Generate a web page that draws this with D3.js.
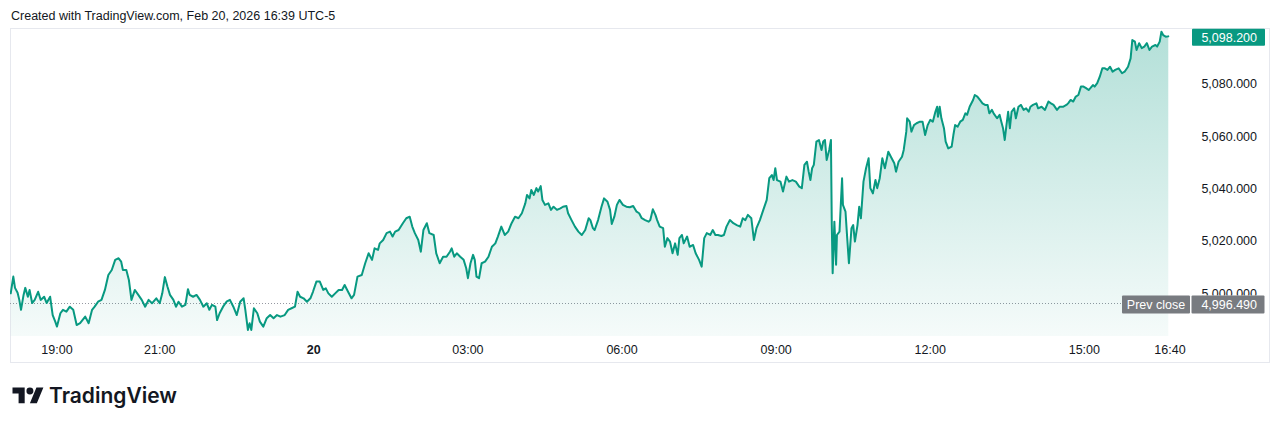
<!DOCTYPE html>
<html><head><meta charset="utf-8">
<script src="https://cdn.jsdelivr.net/npm/d3@7"></script>
<style>html,body{margin:0;padding:0;background:#fff;} svg{display:block;}</style>
</head><body>
<svg id="chart" width="1280" height="427"></svg>
<script>
const times = [
"18:06","18:09","18:11","18:14","18:16","18:18","18:21","18:23","18:26","18:28",
"18:31","18:34","18:38","18:41","18:45","18:48","18:52","18:55","18:58","19:00",
"19:04","19:07","19:11","19:15","19:19","19:23","19:27","19:33","19:37","19:41",
"19:44","19:48","19:52","19:56","20:00","20:04","20:08","20:12","20:15","20:17",
"20:21","20:24","20:27","20:31","20:35","20:39","20:43","20:47","20:51","20:56",
"21:00","21:03","21:06","21:09","21:12","21:16","21:19","21:22","21:26","21:30",
"21:33","21:35","21:39","21:43","21:47","21:51","21:55","21:58","22:01","22:05",
"22:07","22:10","22:14","22:18","22:22","22:26","22:30","22:34","22:38","22:40",
"22:43","22:45","22:47","22:50","22:54","22:57","23:01","23:05","23:09","23:13",
"23:17","23:21","23:26","23:30","23:34","23:38","23:41","23:44","23:48","23:52",
"23:56","23:59","00:03","00:07","00:11","00:14","00:17","00:21","00:25","00:29",
"00:33","00:36","00:40","00:44","00:47","00:51","00:56","01:00","01:04","01:08",
"01:11","01:15","01:17","01:21","01:25","01:29","01:32","01:35","01:39","01:44",
"01:48","01:52","01:55","01:58","02:02","02:05","02:08","02:12","02:15","02:20",
"02:23","02:27","02:31","02:35","02:39","02:41","02:44","02:47","02:51","02:55",
"02:58","03:00","03:03","03:06","03:08","03:10","03:13","03:16","03:20","03:24",
"03:28","03:32","03:35","03:39","03:43","03:47","03:51","03:55","03:59","04:03",
"04:07","04:09","04:12","04:14","04:17","04:20","04:22","04:25","04:27","04:30",
"04:34","04:37","04:40","04:44","04:48","04:51","04:55","04:57","05:01","05:05",
"05:09","05:13","05:17","05:21","05:23","05:26","05:28","05:32","05:36","05:39",
"05:43","05:46","05:48","05:51","05:54","05:57","06:01","06:05","06:09","06:13",
"06:17","06:20","06:23","06:27","06:31","06:33","06:36","06:39","06:41","06:44",
"06:48","06:50","06:53","06:56","06:59","07:02","07:05","07:07","07:10","07:12",
"07:16","07:19","07:23","07:26","07:30","07:33","07:36","07:39","07:43","07:46",
"07:49","07:52","07:56","07:59","08:02","08:06","08:10","08:14","08:18","08:21",
"08:24","08:27","08:31","08:34","08:37","08:41","08:45","08:49","08:52","08:55",
"08:57","08:59","09:01","09:05","09:08","09:12","09:15","09:19","09:23",
"09:27","09:30","09:33","09:36","09:38","09:40","09:42","09:44","09:47","09:50",
"09:53","09:55","09:57","09:59","10:02","10:04","10:05","10:06","10:08","10:10",
"10:11","10:14","10:17","10:18","10:21","10:23","10:25","10:28","10:30","10:32",
"10:35","10:37","10:39","10:42","10:45","10:48","10:50","10:53","10:56","10:58",
"11:01","11:04","11:07","11:11","11:14","11:18","11:20","11:23","11:27","11:29",
"11:32","11:33","11:36","11:38","11:41","11:44","11:48","11:51","11:54","11:57",
"12:00","12:03","12:06","12:08","12:09","12:11","12:13","12:16","12:18","12:21",
"12:25","12:27","12:29","12:32","12:35","12:38","12:41","12:43","12:46","12:50",
"12:52","12:55","12:58","13:01","13:04","13:07","13:09","13:12","13:14","13:18",
"13:21","13:23","13:25","13:27","13:29","13:31","13:33","13:35","13:38","13:40",
"13:43","13:46","13:49","13:52","13:55","13:57","14:00","14:04","14:06","14:10",
"14:14","14:18","14:21","14:24","14:28","14:31","14:35","14:39","14:41","14:44",
"14:47","14:50","14:53","14:56","14:59","15:02","15:05","15:07","15:10","15:12",
"15:15","15:18","15:21","15:24","15:27","15:30","15:33","15:36","15:40","15:44",
"15:47","15:51","15:54","15:56","15:59","16:01","16:04","16:07","16:10","16:13",
"16:16","16:19","16:23","16:25","16:28","16:30","16:32","16:35","16:38"
];
const prices = [
5000.0,5006.4,5002.1,5000.2,4997.5,4993.7,4999.4,5002.1,4998.7,5001.3,
4996.3,4997.5,5000.6,4997.5,4998.7,4996.3,4998.7,4991.7,4989.2,4987.3,
4992.4,4993.7,4993.0,4994.9,4993.7,4987.9,4988.6,4991.1,4988.6,4993.7,
4994.9,4996.8,4997.5,5001.3,5007.0,5008.9,5012.8,5013.4,5012.1,5008.9,
5008.9,5005.1,4997.5,5001.3,4999.4,4997.5,4994.9,4997.5,4996.2,4998.1,
4996.2,5000.0,5006.2,5002.6,4999.4,4997.5,4994.9,4996.8,4994.9,4995.6,
5001.6,4999.4,4998.7,4999.4,4997.5,4994.9,4996.2,4993.7,4995.6,4994.9,
4989.8,4992.4,4994.9,4996.8,4997.5,4994.9,4991.7,4996.8,4998.1,4993.7,
4986.0,4988.6,4986.0,4994.3,4992.4,4989.2,4987.3,4990.5,4991.7,4990.5,
4991.7,4991.1,4991.7,4993.7,4994.3,4994.9,5000.6,4998.7,4998.1,4996.8,
4998.1,5000.6,5004.5,5004.5,5001.3,5001.9,5000.0,4998.7,5000.0,5001.3,
5001.3,5003.2,5000.6,4998.1,4999.4,5006.4,5007.0,5011.5,5015.3,5012.8,
5017.2,5016.6,5019.1,5020.4,5023.0,5023.6,5021.7,5023.6,5024.2,5026.8,
5028.7,5029.3,5025.5,5023.0,5020.4,5015.9,5024.2,5026.8,5023.0,5022.3,
5015.3,5011.5,5014.0,5014.0,5015.9,5017.2,5014.0,5015.3,5014.0,5012.8,
5009.6,5005.8,5011.5,5014.7,5012.8,5006.4,5005.8,5011.5,5012.1,5014.0,
5017.8,5019.1,5021.7,5025.5,5022.3,5023.6,5026.8,5029.3,5028.7,5030.6,
5034.4,5037.6,5036.3,5039.5,5037.6,5040.2,5038.9,5041.0,5035.7,5033.8,
5034.4,5031.9,5033.1,5031.9,5032.5,5033.1,5033.4,5030.6,5028.0,5025.5,
5023.6,5022.3,5024.2,5028.7,5028.0,5024.9,5024.2,5028.0,5033.1,5036.3,
5035.0,5031.9,5026.5,5029.3,5033.8,5035.7,5033.8,5033.1,5032.9,5033.4,
5031.2,5030.6,5028.7,5028.0,5027.4,5028.0,5032.1,5030.0,5028.0,5025.5,
5024.9,5017.8,5021.1,5019.8,5015.3,5019.1,5014.7,5021.1,5022.3,5019.1,
5021.7,5017.8,5018.5,5015.3,5012.8,5010.2,5021.1,5023.0,5022.3,5024.2,
5022.3,5022.3,5021.9,5022.3,5025.5,5028.0,5026.8,5026.1,5025.5,5028.7,
5028.0,5030.0,5028.7,5020.4,5024.9,5028.0,5031.9,5035.7,5044.0,5045.2,
5043.3,5047.8,5043.3,5042.7,5038.9,5044.6,5042.7,5043.3,5042.7,
5040.8,5040.2,5049.1,5050.3,5046.5,5043.3,5047.8,5049.1,5058.0,5058.6,
5054.8,5058.0,5058.6,5051.0,5054.8,5058.6,5026.1,5007.7,5027.4,5010.9,
5022.3,5023.6,5044.0,5033.8,5031.2,5021.1,5011.5,5024.9,5026.1,5019.8,
5026.1,5033.1,5028.7,5042.7,5047.8,5051.6,5040.2,5038.2,5043.3,5040.2,
5044.0,5051.6,5047.8,5054.1,5052.2,5049.7,5046.5,5050.3,5052.2,5054.8,
5061.8,5066.9,5065.6,5061.8,5064.3,5065.0,5065.6,5065.6,5060.5,5064.3,
5066.3,5065.6,5069.4,5071.3,5067.5,5071.3,5066.9,5063.1,5058.0,5055.4,
5056.1,5060.5,5064.3,5063.7,5065.6,5066.3,5068.8,5068.2,5071.3,5073.9,
5075.8,5075.2,5073.9,5072.6,5072.0,5072.0,5068.8,5070.1,5068.8,5066.9,
5068.2,5065.6,5063.1,5058.6,5064.3,5069.4,5063.1,5069.4,5070.7,5066.9,
5071.3,5072.0,5070.1,5070.7,5069.4,5071.3,5072.0,5072.6,5070.7,5071.3,
5070.1,5073.3,5072.6,5072.0,5070.1,5071.3,5071.3,5072.0,5072.6,5073.9,
5073.3,5075.2,5075.8,5079.0,5079.0,5078.4,5077.7,5078.4,5079.6,5079.0,
5080.3,5082.8,5086.0,5086.0,5085.4,5086.6,5084.7,5085.4,5086.0,5084.1,
5084.7,5086.6,5089.8,5096.8,5096.2,5093.0,5095.6,5093.7,5094.3,5095.6,
5093.0,5094.3,5094.9,5094.3,5096.2,5100.0,5098.7,5098.1,5098.2
];
const priceTicks = [5000, 5020, 5040, 5060, 5080];
const timeTicks = ["19:00","21:00","00:00","03:00","06:00","09:00","12:00","15:00","16:40"];
const timeTickLabels = ["19:00","21:00","20","03:00","06:00","09:00","12:00","15:00","16:40"];
const lastPrice = 5098.2;
const prevClose = 4996.49;
const headerText = "Created with TradingView.com, Feb 20, 2026 16:39 UTC-5";
const brandText = "TradingView";

// session: 18:00 Feb 19 -> next day
function toDate(hhmm) {
  const [h, m] = hhmm.split(":").map(Number);
  return new Date(2026, 1, h >= 18 ? 19 : 20, h, m);
}
const data = d3.zip(times, prices).map(([t, v]) => ({ t: toDate(t), v }));

const pane = { left: 10, right: 1183, top: 28, bottom: 336 };
const sessionStart = new Date(2026, 1, 19, 18, 0);
const x = d3.scaleTime()
  .domain([new Date(+sessionStart + 5.14 * 60000), new Date(+sessionStart + 1375.2 * 60000)])
  .range([pane.left, pane.right]);
const y = d3.scaleLinear().domain([4983.7, 5101.4]).range([pane.bottom, pane.top]);

const svg = d3.select("#chart");
const FONT = "'Liberation Sans', Arial, sans-serif";
const green = "#089981";

// header
svg.append("text").attr("x", 11).attr("y", 20).attr("font-family", FONT)
  .attr("font-size", 12.5).attr("fill", "#131722").text(headerText);

// frame
svg.append("rect").attr("x", 10.5).attr("y", 28.5).attr("width", 1259).attr("height", 334)
  .attr("fill", "#fff").attr("stroke", "#e6e8ee");

const defs = svg.append("defs");
const grad = defs.append("linearGradient").attr("id", "fillGrad")
  .attr("gradientUnits", "userSpaceOnUse").attr("x1", 0).attr("x2", 0)
  .attr("y1", pane.top).attr("y2", pane.bottom);
grad.append("stop").attr("offset", 0).attr("stop-color", green).attr("stop-opacity", 0.31);
grad.append("stop").attr("offset", 1).attr("stop-color", green).attr("stop-opacity", 0.04);
defs.append("clipPath").attr("id", "paneClip").append("rect")
  .attr("x", pane.left).attr("y", pane.top).attr("width", pane.right - pane.left).attr("height", pane.bottom - pane.top);

const g = svg.append("g").attr("clip-path", "url(#paneClip)");

// prev close dotted line
g.append("line").attr("x1", pane.left).attr("x2", 1122)
  .attr("y1", Math.round(y(prevClose)) + 0.5).attr("y2", Math.round(y(prevClose)) + 0.5)
  .attr("stroke", "#9598a1").attr("stroke-width", 1).attr("stroke-dasharray", "1,2");

g.append("path").datum(data)
  .attr("d", d3.area().x(d => x(d.t)).y0(pane.bottom).y1(d => y(d.v)))
  .attr("fill", "url(#fillGrad)");
g.append("path").datum(data)
  .attr("d", d3.line().x(d => x(d.t)).y(d => y(d.v)))
  .attr("fill", "none").attr("stroke", green).attr("stroke-width", 2)
  .attr("stroke-linejoin", "round").attr("stroke-linecap", "round");

// price axis
const axisX = 1257;
const py = y(prevClose) + 2;
defs.append("clipPath").attr("id", "axisClip").append("rect")
  .attr("x", 1185).attr("y", 0).attr("width", 95).attr("height", py - 9);
svg.append("g").attr("clip-path", "url(#axisClip)").selectAll("text").data(priceTicks).join("text")
  .attr("x", axisX).attr("y", d => y(d)).attr("dy", "0.35em")
  .attr("text-anchor", "end").attr("font-family", FONT).attr("font-size", 12.5)
  .attr("fill", "#131722").text(d => d3.format(",.3f")(d));

// last price label
const ly = y(lastPrice) + 1;
svg.append("rect").attr("x", 1192).attr("y", ly - 8.5).attr("width", 73).attr("height", 17)
  .attr("rx", 1).attr("fill", green);
svg.append("text").attr("x", axisX).attr("y", ly).attr("dy", "0.35em").attr("text-anchor", "end")
  .attr("font-family", FONT).attr("font-size", 12.5).attr("fill", "#fff")
  .text(d3.format(",.3f")(lastPrice));

// prev close label
svg.append("rect").attr("x", 1122).attr("y", py - 9).attr("width", 68).attr("height", 18)
  .attr("rx", 1).attr("fill", "#787b80");
svg.append("rect").attr("x", 1191.5).attr("y", py - 9).attr("width", 73).attr("height", 18)
  .attr("rx", 1).attr("fill", "#787b80");
svg.append("text").attr("x", 1156).attr("y", py).attr("dy", "0.35em").attr("text-anchor", "middle")
  .attr("font-family", FONT).attr("font-size", 12.5).attr("fill", "#fff").text("Prev close");
svg.append("text").attr("x", axisX).attr("y", py).attr("dy", "0.35em").attr("text-anchor", "end")
  .attr("font-family", FONT).attr("font-size", 12.5).attr("fill", "#fff")
  .text(d3.format(",.3f")(prevClose));

// time axis
svg.append("g").selectAll("text").data(d3.zip(timeTicks, timeTickLabels)).join("text")
  .attr("x", d => x(toDate(d[0]))).attr("y", 350).attr("dy", "0.35em")
  .attr("text-anchor", "middle").attr("font-family", FONT).attr("font-size", 12.5)
  .attr("font-weight", d => d[1] === "20" ? "bold" : "normal")
  .attr("fill", "#131722").text(d => d[1]);

// brand logo
const logo = svg.append("g").attr("transform", "translate(12.5,384) scale(0.87)").attr("fill", "#131722");
logo.append("path").attr("d", "M14 22H7V11H0V4h14v18zM28 22h-8l7.5-18h8L28 22z");
logo.append("circle").attr("cx", 20).attr("cy", 8).attr("r", 4);
svg.append("text").attr("x", 49).attr("y", 403).attr("font-family", "Inter, 'Open Sans', sans-serif")
  .attr("font-size", 21).attr("font-weight", 600).attr("fill", "#131722").text(brandText);
</script>
</body></html>
